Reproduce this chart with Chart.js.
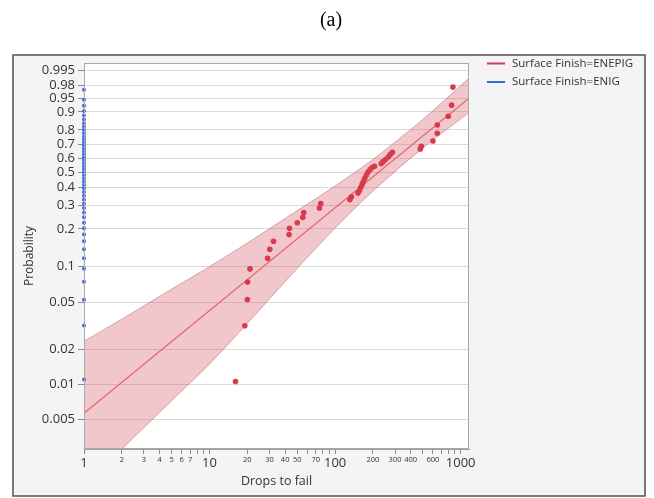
<!DOCTYPE html>
<html lang="en">
<head>
<meta charset="UTF-8">
<title>Drops to fail - Weibull probability plot</title>
<script src="https://cdn.jsdelivr.net/npm/chart.js"></script>
<style>
  html, body { margin: 0; padding: 0; background: #fff; }
</style>
</head>
<body>
<canvas id="weibullChart" width="654" height="498"></canvas>
<script>
// ENEPIG: drops to fail and plotted probability
const enepigDrops = [16.1, 19.1, 20.0, 20.1, 21.0, 29.0, 30.2, 32.3, 43.0, 43.3, 50.0, 55.3, 56.3, 75.0, 76.8,
  131, 135, 152, 156, 160, 164, 167, 172, 177, 183, 190, 197, 206, 233, 240, 252, 265, 275, 286,
  477, 486, 601, 651, 651, 797, 847, 867];
const enepigProb = [0.0106, 0.0319, 0.0532, 0.0745, 0.0957, 0.117, 0.138, 0.160, 0.181, 0.202, 0.223, 0.245, 0.266, 0.287, 0.309,
  0.330, 0.345, 0.367, 0.380, 0.399, 0.417, 0.434, 0.456, 0.478, 0.500, 0.517, 0.532, 0.541, 0.560, 0.572, 0.589, 0.608, 0.627, 0.642,
  0.667, 0.686, 0.724, 0.777, 0.830, 0.879, 0.928, 0.977];

// ENIG: every unit failed on the first drop
const enigDrops = 1;
const enigProb = [0.011, 0.032, 0.053, 0.075, 0.096, 0.117, 0.138, 0.160, 0.181, 0.202, 0.223, 0.245, 0.266, 0.287, 0.309,
  0.330, 0.351, 0.372, 0.394, 0.415, 0.436, 0.457, 0.479, 0.500, 0.521, 0.543, 0.564, 0.585, 0.606, 0.628, 0.649,
  0.670, 0.691, 0.713, 0.734, 0.755, 0.777, 0.798, 0.819, 0.840, 0.862, 0.883, 0.904, 0.926, 0.947, 0.972];

// fitted Weibull line and its confidence band (ENEPIG)
const fitDrops = [1, 1165];
const fitProb = [0.00563, 0.951];
const bandDrops = [1, 2, 5, 10, 20, 50, 100, 200, 500, 1165];
const bandUpper = [0.0235, 0.0362, 0.0650, 0.0999, 0.155, 0.275, 0.409, 0.590, 0.862, 0.989];
const bandLower = [0.00132, 0.00276, 0.00727, 0.0150, 0.0334, 0.0970, 0.203, 0.378, 0.674, 0.8965];

// axes
const probTicks = [0.005, 0.01, 0.02, 0.05, 0.1, 0.2, 0.3, 0.4, 0.5, 0.6, 0.7, 0.8, 0.9, 0.95, 0.98, 0.995];
const dropTicks = [1, 2, 3, 4, 5, 6, 7, 8, 9, 10, 20, 30, 40, 50, 60, 70, 80, 90, 100,
  200, 300, 400, 500, 600, 700, 800, 900, 1000];
const dropLabels = ['1', '2', '3', '4', '5', '6', '7', '', '', '10', '20', '30', '40', '50', '', '70', '', '', '100',
  '200', '300', '400', '', '600', '', '', '', '1000'];
const bigDrops = [1, 10, 100, 1000];
const probMin = 0.00277, probMax = 0.99775;
const dropMin = 1, dropMax = 1165;

const seriesNames = ['Surface Finish=ENEPIG', 'Surface Finish=ENIG'];
const red = '#d83a4c';
const blue = '#3f67d6';
const uiFont = 'Open Sans';

// Weibull probability scale: ln(-ln(1-p))
function weib(p) {
    return Math.log(-Math.log(1 - p));
}

function pts(xs, ps) {
    return ps.map((p, i) => ({ x: Array.isArray(xs) ? xs[i] : xs, y: weib(p) }));
}

// frame, background, plot border, legend and panel label
const decorations = {
    id: 'decorations',
    beforeDraw(chart) {
        const ctx = chart.ctx, a = chart.chartArea;
        ctx.save();
        ctx.fillStyle = '#ffffff';
        ctx.fillRect(0, 0, chart.width, chart.height);
        ctx.fillStyle = '#f4f4f4';
        ctx.fillRect(13, 55, 632, 441);
        ctx.strokeStyle = '#505050';
        ctx.lineWidth = 1.5;
        ctx.strokeRect(13, 55, 632, 441);
        ctx.fillStyle = '#ffffff';
        ctx.fillRect(a.left, a.top, a.right - a.left, a.bottom - a.top);
        ctx.restore();
    },
    afterDraw(chart) {
        const ctx = chart.ctx, a = chart.chartArea;
        ctx.save();
        ctx.strokeStyle = '#a9a9a9';
        ctx.lineWidth = 1;
        ctx.strokeRect(a.left + 0.5, a.top + 0.5, a.right - a.left - 1, a.bottom - a.top - 1);

        ctx.fillStyle = '#000';
        ctx.font = '20px "Liberation Serif"';
        ctx.textAlign = 'center';
        ctx.textBaseline = 'middle';
        ctx.fillText('(a)', 331, 21);

        ctx.font = '11.5px "' + uiFont + '"';
        ctx.textAlign = 'left';
        [red, blue].forEach((c, i) => {
            const y = 63.5 + i * 18.5;
            ctx.strokeStyle = c;
            ctx.lineWidth = 2;
            ctx.beginPath();
            ctx.moveTo(487, y);
            ctx.lineTo(505, y);
            ctx.stroke();
            ctx.fillStyle = '#333';
            ctx.fillText(seriesNames[i], 512, y);
        });
        ctx.restore();
    }
};

const ctx = document.getElementById('weibullChart').getContext('2d');
new Chart(ctx, {
    type: 'scatter',
    data: {
        datasets: [{
            label: seriesNames[0],
            data: pts(enepigDrops, enepigProb),
            backgroundColor: red,
            pointRadius: 2.8,
            pointBorderWidth: 0,
            order: 0
        }, {
            label: seriesNames[1],
            data: pts(enigDrops, enigProb),
            backgroundColor: blue,
            pointRadius: 2,
            pointBorderWidth: 0,
            clip: false,
            order: 0
        }, {
            type: 'line',
            label: 'fit',
            data: pts(fitDrops, fitProb),
            borderColor: '#e06470',
            borderWidth: 1.2,
            pointRadius: 0,
            fill: false,
            order: 1
        }, {
            type: 'line',
            label: 'upper',
            data: pts(bandDrops, bandUpper),
            borderColor: 'rgba(185, 120, 128, 0.6)',
            borderWidth: 1,
            backgroundColor: 'rgba(214, 80, 96, 0.32)',
            pointRadius: 0,
            tension: 0.3,
            fill: '+1',
            order: 2
        }, {
            type: 'line',
            label: 'lower',
            data: pts(bandDrops, bandLower),
            borderColor: 'rgba(185, 120, 128, 0.6)',
            borderWidth: 1,
            pointRadius: 0,
            tension: 0.3,
            fill: false,
            order: 2
        }]
    },
    options: {
        responsive: false,
        animation: false,
        layout: { padding: { left: 13, right: 185, top: 63, bottom: 2 } },
        plugins: {
            legend: { display: false },
            tooltip: { enabled: false }
        },
        scales: {
            x: {
                type: 'logarithmic',
                min: dropMin,
                max: dropMax,
                afterBuildTicks: (scale) => { scale.ticks = dropTicks.map(v => ({ value: v })); },
                afterFit: (scale) => { scale.height = 47; },
                ticks: {
                    autoSkip: false,
                    maxRotation: 0,
                    padding: 1,
                    color: '#333',
                    callback: (v, i) => dropLabels[i],
                    font: (c) => ({
                        family: uiFont,
                        size: c.tick && bigDrops.includes(c.tick.value) ? 13 : 7.5
                    })
                },
                grid: { drawOnChartArea: false, tickLength: 5, tickColor: '#8a8a8a' },
                border: { color: '#a0a0a0' },
                title: {
                    display: true,
                    text: 'Drops to fail',
                    color: '#333',
                    font: { family: uiFont, size: 12.5 },
                    padding: { top: 0, bottom: 7 }
                }
            },
            y: {
                type: 'linear',
                min: weib(probMin),
                max: weib(probMax),
                afterBuildTicks: (scale) => { scale.ticks = probTicks.map(p => ({ value: weib(p) })); },
                afterFit: (scale) => { scale.width = 71; },
                ticks: {
                    autoSkip: false,
                    padding: 3,
                    color: '#333',
                    font: { family: uiFont, size: 13 },
                    callback: (v, i) => String(probTicks[i])
                },
                grid: { color: '#dadada', tickLength: 6, tickColor: '#8a8a8a' },
                border: { color: '#a0a0a0' },
                title: {
                    display: true,
                    text: 'Probability',
                    color: '#333',
                    font: { family: uiFont, size: 12 },
                    padding: { top: 9, bottom: 0 }
                }
            }
        }
    },
    plugins: [decorations]
});
</script>
</body>
</html>
